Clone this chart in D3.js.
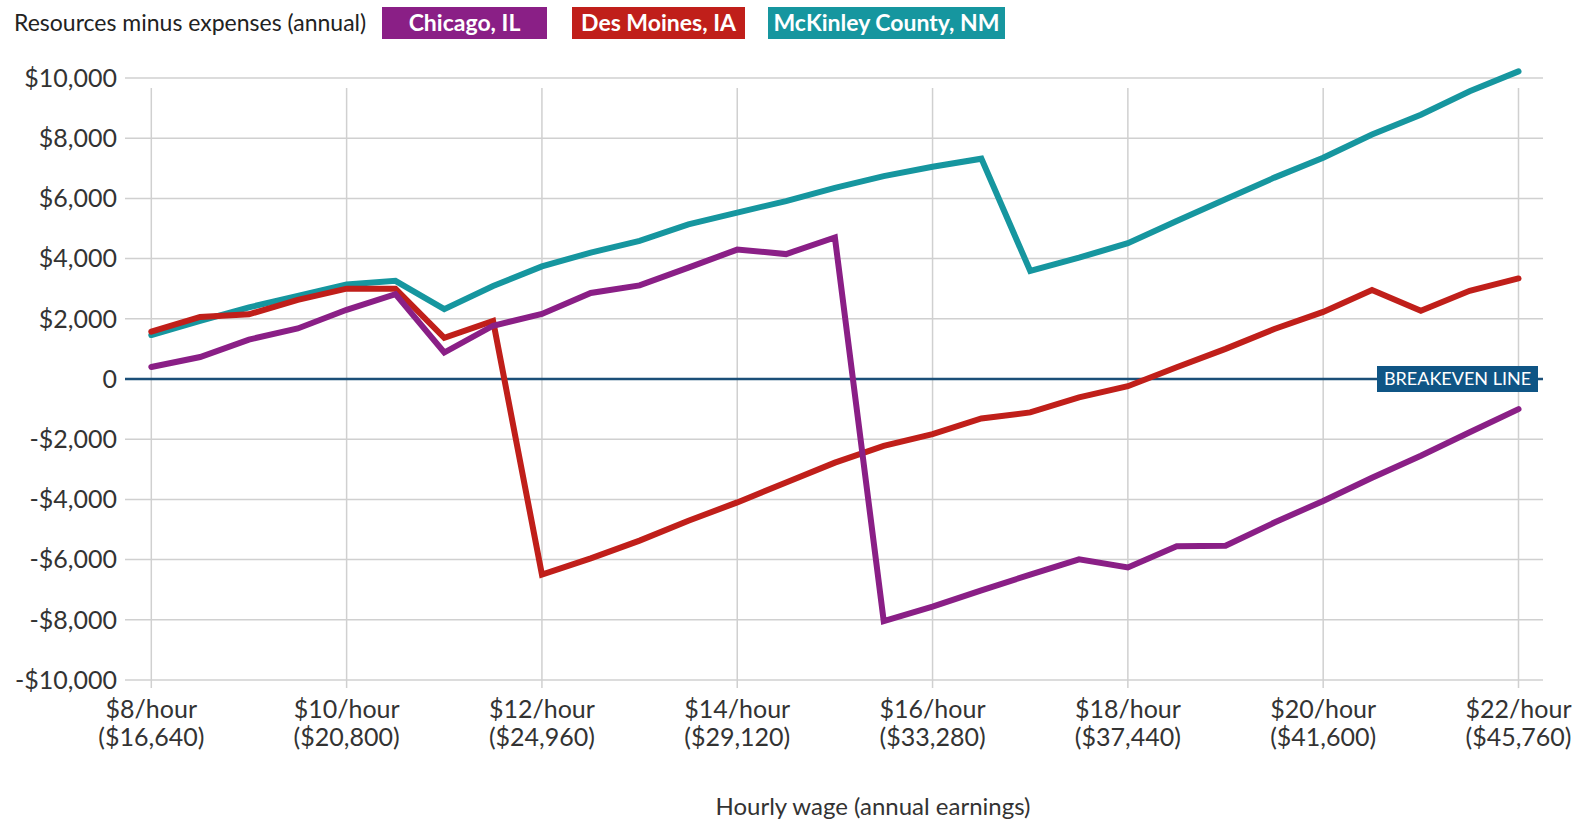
<!DOCTYPE html>
<html>
<head>
<meta charset="utf-8">
<script src="https://d3js.org/d3.v7.min.js"></script>
<style>
  body { margin: 0; background: #fff; }
  svg text { font-family: Lato, "Noto Sans", sans-serif; }
</style>
</head>
<body>
<svg id="viz"></svg>
<script>
var width = 1581;
var height = 822;

// hourly wage steps on the x axis
var wages = [8, 8.5, 9, 9.5, 10, 10.5, 11, 11.5, 12, 12.5, 13, 13.5, 14, 14.5, 15,
    15.5, 16, 16.5, 17, 17.5, 18, 18.5, 19, 19.5, 20, 20.5, 21, 21.5, 22];

var chicago = [400, 730, 1310, 1680, 2300, 2820, 880, 1770, 2160, 2860, 3110, 3700, 4300, 4150, 4700,
    -8040, -7560, -7020, -6500, -5990, -6260, -5560, -5540, -4770, -4050, -3280, -2550, -1770, -1000];

var desMoines = [1570, 2060, 2150, 2630, 3000, 3000, 1370, 1930, -6500, -5960, -5370, -4710, -4100, -3440, -2780,
    -2220, -1830, -1310, -1110, -610, -240, 390, 1000, 1660, 2230, 2960, 2270, 2930, 3340];

var mckinley = [1460, 1930, 2380, 2760, 3140, 3260, 2320, 3090, 3740, 4200, 4590, 5140, 5530, 5910, 6350,
    6740, 7050, 7320, 3590, 4030, 4510, 5250, 5970, 6690, 7350, 8120, 8780, 9560, 10220];

var xTicks = [8, 10, 12, 14, 16, 18, 20, 22];
var xTickAnnual = ["($16,640)", "($20,800)", "($24,960)", "($29,120)", "($33,280)", "($37,440)", "($41,600)", "($45,760)"];
var yTicks = [-10000, -8000, -6000, -4000, -2000, 0, 2000, 4000, 6000, 8000, 10000];

var seriesNames = ["Chicago, IL", "Des Moines, IA", "McKinley County, NM"];
var seriesColors = ["#8a1f86", "#c01f1a", "#16969f"];

var series = [
    { name: seriesNames[2], color: seriesColors[2], values: mckinley },
    { name: seriesNames[1], color: seriesColors[1], values: desMoines },
    { name: seriesNames[0], color: seriesColors[0], values: chicago }
];

var x = d3.scaleLinear().domain([8, 22]).range([151.3, 1518.5]);
var y = d3.scaleLinear().domain([-10000, 10000]).range([680, 78]);

var gridLeft = 125, gridRight = 1543;

var svg = d3.select("#viz").attr("width", width).attr("height", height);

// horizontal grid
svg.append("g")
    .selectAll("line")
    .data(yTicks.filter(function (d) { return d != 0; }))
    .enter()
    .append("line")
    .attr("x1", gridLeft)
    .attr("x2", gridRight)
    .attr("y1", function (d) { return y(d); })
    .attr("y2", function (d) { return y(d); })
    .attr("stroke", "#d0d0d0")
    .attr("stroke-width", 1.5);

// vertical grid
svg.append("g")
    .selectAll("line")
    .data(xTicks)
    .enter()
    .append("line")
    .attr("x1", function (d) { return x(d); })
    .attr("x2", function (d) { return x(d); })
    .attr("y1", 88)
    .attr("y2", 688)
    .attr("stroke", "#d0d0d0")
    .attr("stroke-width", 1.5);

// y labels
var fmt = d3.format(",");
svg.append("g")
    .selectAll("text")
    .data(yTicks)
    .enter()
    .append("text")
    .attr("x", 117)
    .attr("y", function (d) { return y(d); })
    .attr("dy", "0.35em")
    .attr("text-anchor", "end")
    .style("font-size", "25px")
    .style("fill", "#333")
    .text(function (d) {
        if (d == 0) return "0";
        return (d < 0 ? "-$" : "$") + fmt(Math.abs(d));
    });

// x labels
var xl = svg.append("g")
    .selectAll("text")
    .data(xTicks)
    .enter()
    .append("text")
    .attr("text-anchor", "middle")
    .style("font-size", "25px")
    .style("fill", "#333");
xl.append("tspan")
    .attr("x", function (d) { return x(d); })
    .attr("y", 718)
    .text(function (d) { return "$" + d + "/hour"; });
xl.append("tspan")
    .attr("x", function (d) { return x(d); })
    .attr("y", 746)
    .text(function (d, i) { return xTickAnnual[i]; });

svg.append("text")
    .attr("x", 873)
    .attr("y", 815)
    .attr("text-anchor", "middle")
    .style("font-size", "24px")
    .style("fill", "#333")
    .text("Hourly wage (annual earnings)");

// breakeven
svg.append("line")
    .attr("x1", gridLeft)
    .attr("x2", gridRight)
    .attr("y1", y(0))
    .attr("y2", y(0))
    .attr("stroke", "#1b4f78")
    .attr("stroke-width", 2.5);

var line = d3.line()
    .x(function (d, i) { return x(wages[i]); })
    .y(function (d) { return y(d); });

svg.append("g")
    .selectAll("path")
    .data(series)
    .enter()
    .append("path")
    .attr("d", function (d) { return line(d.values); })
    .attr("fill", "none")
    .attr("stroke", function (d) { return d.color; })
    .attr("stroke-width", 6)
    .attr("stroke-linejoin", "miter")
    .attr("stroke-miterlimit", 3)
    .attr("stroke-linecap", "round");

svg.append("rect")
    .attr("x", 1377)
    .attr("y", 366)
    .attr("width", 161)
    .attr("height", 26)
    .attr("fill", "#0f5585");
svg.append("text")
    .attr("x", 1457.5)
    .attr("y", 379)
    .attr("dy", "0.36em")
    .attr("text-anchor", "middle")
    .style("font-size", "18px")
    .style("fill", "#fff")
    .text("BREAKEVEN LINE");

// legend
svg.append("text")
    .attr("x", 14)
    .attr("y", 31)
    .style("font-size", "23px")
    .style("fill", "#222")
    .text("Resources minus expenses (annual)");

var legendBoxes = [
    { x: 382, w: 165 },
    { x: 572, w: 173 },
    { x: 768, w: 237 }
];

var lg = svg.append("g")
    .selectAll("g")
    .data(seriesNames)
    .enter()
    .append("g");
lg.append("rect")
    .attr("x", function (d, i) { return legendBoxes[i].x; })
    .attr("y", 7)
    .attr("width", function (d, i) { return legendBoxes[i].w; })
    .attr("height", 32)
    .attr("fill", function (d, i) { return seriesColors[i]; });
lg.append("text")
    .attr("x", function (d, i) { return legendBoxes[i].x + legendBoxes[i].w / 2; })
    .attr("y", 23)
    .attr("dy", "0.36em")
    .attr("text-anchor", "middle")
    .style("font-size", "23px")
    .style("font-weight", "bold")
    .style("fill", "#fff")
    .text(function (d) { return d; });
</script>
</body>
</html>
